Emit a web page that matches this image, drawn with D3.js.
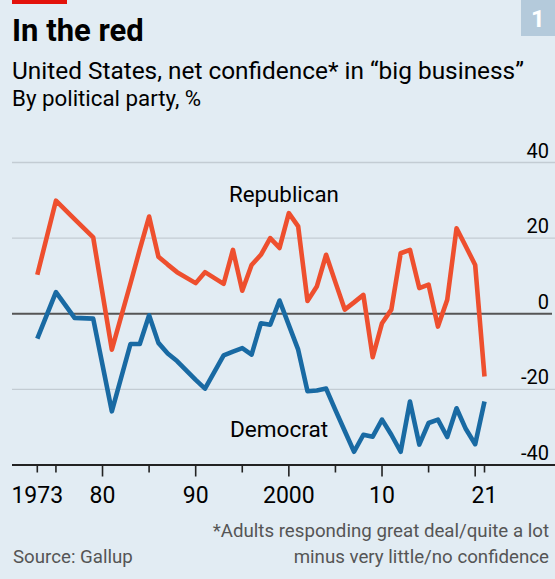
<!DOCTYPE html>
<html>
<head>
<meta charset="utf-8">
<script src="https://cdn.jsdelivr.net/npm/d3@7"></script>
<style>
  html, body { margin: 0; padding: 0; background: #e2ecf3; }
  svg { display: block; }
  text { font-family: Roboto, "Noto Sans", sans-serif; }
</style>
</head>
<body>
<div id="chart"></div>
<script>
// ---- data ----
const years = [1973,1975,1977,1979,1981,1983,1984,1985,1986,1987,1988,1990,1991,
  1993,1994,1995,1996,1997,1998,1999,2000,2001,2002,2003,2004,2005,2006,2007,2008,2009,
  2010,2011,2012,2013,2014,2015,2016,2017,2018,2019,2020,2021];
const republican = [10.3,29.9,25,20.2,-9.5,8,17,25.7,15.1,13,11,8.1,11,
  7.9,16.9,6.1,12.9,15.6,20,17.4,26.6,23.1,3.4,7.2,15.6,8.3,1.1,3,5,-11.5,
  -2.5,1.1,16,16.9,6.8,7.7,-3.4,3.7,22.6,17.8,12.9,-16.6];
const democrat = [-6.6,5.7,-1.1,-1.3,-25.8,-8,-8,-0.4,-7.7,-10.5,-12.5,-17.5,-19.8,
  -11,-10,-9.1,-10.8,-2.5,-2.9,3.5,-3,-9.5,-20.5,-20.3,-19.8,-25.5,-31,-36.5,-32,-32.5,
  -28,-32,-36.5,-23.2,-34.6,-28.9,-28,-32.6,-25,-30.5,-34.5,-23.2];
const yTicks = [40, 20, 0, -20, -40];
const xTickYears = [1973,1975,1980,1985,1990,1995,2000,2005,2010,2015,2020,2021];
const xLongTicks = [1980,1990,2000,2010,2020];
const xLabelYears = [1973,1980,1990,2000,2010,2021];
const xLabelText = ["1973","80","90","2000","10","21"];

const W = 555, H = 579;
const svg = d3.select("#chart").append("svg").attr("width", W).attr("height", H);
svg.append("rect").attr("width", W).attr("height", H).attr("fill", "#e2ecf3");

const x = d3.scaleLinear().domain([1973, 2021]).range([37.3, 484.5]);
const y = d3.scaleLinear().domain([-40, 40]).range([465, 162.5]);

// red tag & badge
svg.append("rect").attr("x", 12).attr("y", 0).attr("width", 55).attr("height", 4).attr("fill", "#e3120b");
svg.append("rect").attr("x", 521).attr("y", 0).attr("width", 34).attr("height", 36).attr("fill", "#b4cadb");
svg.append("text").attr("x", 538).attr("y", 27).attr("text-anchor", "middle")
  .attr("font-size", 24).attr("font-weight", 700).attr("fill", "#fff").text("1");

// titles
svg.append("text").attr("x", 12).attr("y", 41).attr("font-size", 31).attr("font-weight", 700)
  .attr("fill", "#000").text("In the red");
svg.append("text").attr("x", 12).attr("y", 79).attr("font-size", 24.4).attr("fill", "#000")
  .text("United States, net confidence* in \u201cbig business\u201d");
svg.append("text").attr("x", 12).attr("y", 106).attr("font-size", 22.3).attr("fill", "#000")
  .text("By political party, %");

// gridlines
const grid = svg.append("g");
grid.selectAll("line").data(yTicks.filter(d => d !== 0 && d !== -40)).join("line")
  .attr("x1", 12).attr("x2", W).attr("y1", d => y(d)).attr("y2", d => y(d))
  .attr("stroke", "#c3ccd3").attr("stroke-width", 1.3);
grid.selectAll("text").data(yTicks).join("text")
  .attr("x", 549).attr("y", d => y(d) - 5).attr("text-anchor", "end")
  .attr("font-size", 20).attr("fill", "#000").text(d => d);

// zero line
svg.append("line").attr("x1", 12).attr("x2", 552).attr("y1", y(0)).attr("y2", y(0))
  .attr("stroke", "#555", ).attr("stroke-width", 2);

// lines
const line = d3.line().x((d, i) => x(years[i])).y(d => y(d)).curve(d3.curveLinear);
svg.append("path").datum(republican).attr("d", line).attr("fill", "none")
  .attr("stroke", "#ee4f2e").attr("stroke-width", 4.6).attr("stroke-linejoin", "round");
svg.append("path").datum(democrat).attr("d", line).attr("fill", "none")
  .attr("stroke", "#196aa3").attr("stroke-width", 4.6).attr("stroke-linejoin", "round");

// series labels
svg.append("text").attr("x", 229).attr("y", 202).attr("font-size", 22.3).attr("fill", "#000").text("Republican");
svg.append("text").attr("x", 230).attr("y", 437).attr("font-size", 22.6).attr("fill", "#000").text("Democrat");

// x axis
svg.append("line").attr("x1", 12).attr("x2", W).attr("y1", y(-40)).attr("y2", y(-40))
  .attr("stroke", "#222").attr("stroke-width", 2);
svg.append("g").selectAll("line").data(xTickYears).join("line")
  .attr("x1", d => x(d)).attr("x2", d => x(d))
  .attr("y1", y(-40)).attr("y2", d => y(-40) + (xLongTicks.includes(d) ? 11.5 : 7.5))
  .attr("stroke", "#222").attr("stroke-width", 1.6);
svg.append("g").selectAll("text").data(xLabelYears).join("text")
  .attr("x", d => x(d)).attr("y", 503).attr("text-anchor", "middle")
  .attr("font-size", 23).attr("fill", "#000").text((d, i) => xLabelText[i]);

// footer
svg.append("text").attr("x", 549).attr("y", 537).attr("text-anchor", "end").attr("font-size", 18.7)
  .attr("fill", "#555").text("*Adults responding great deal/quite a lot");
svg.append("text").attr("x", 549).attr("y", 563).attr("text-anchor", "end").attr("font-size", 18.7)
  .attr("fill", "#555").text("minus very little/no confidence");
svg.append("text").attr("x", 13).attr("y", 563).attr("font-size", 18.7)
  .attr("fill", "#555").text("Source: Gallup");
</script>
</body>
</html>
